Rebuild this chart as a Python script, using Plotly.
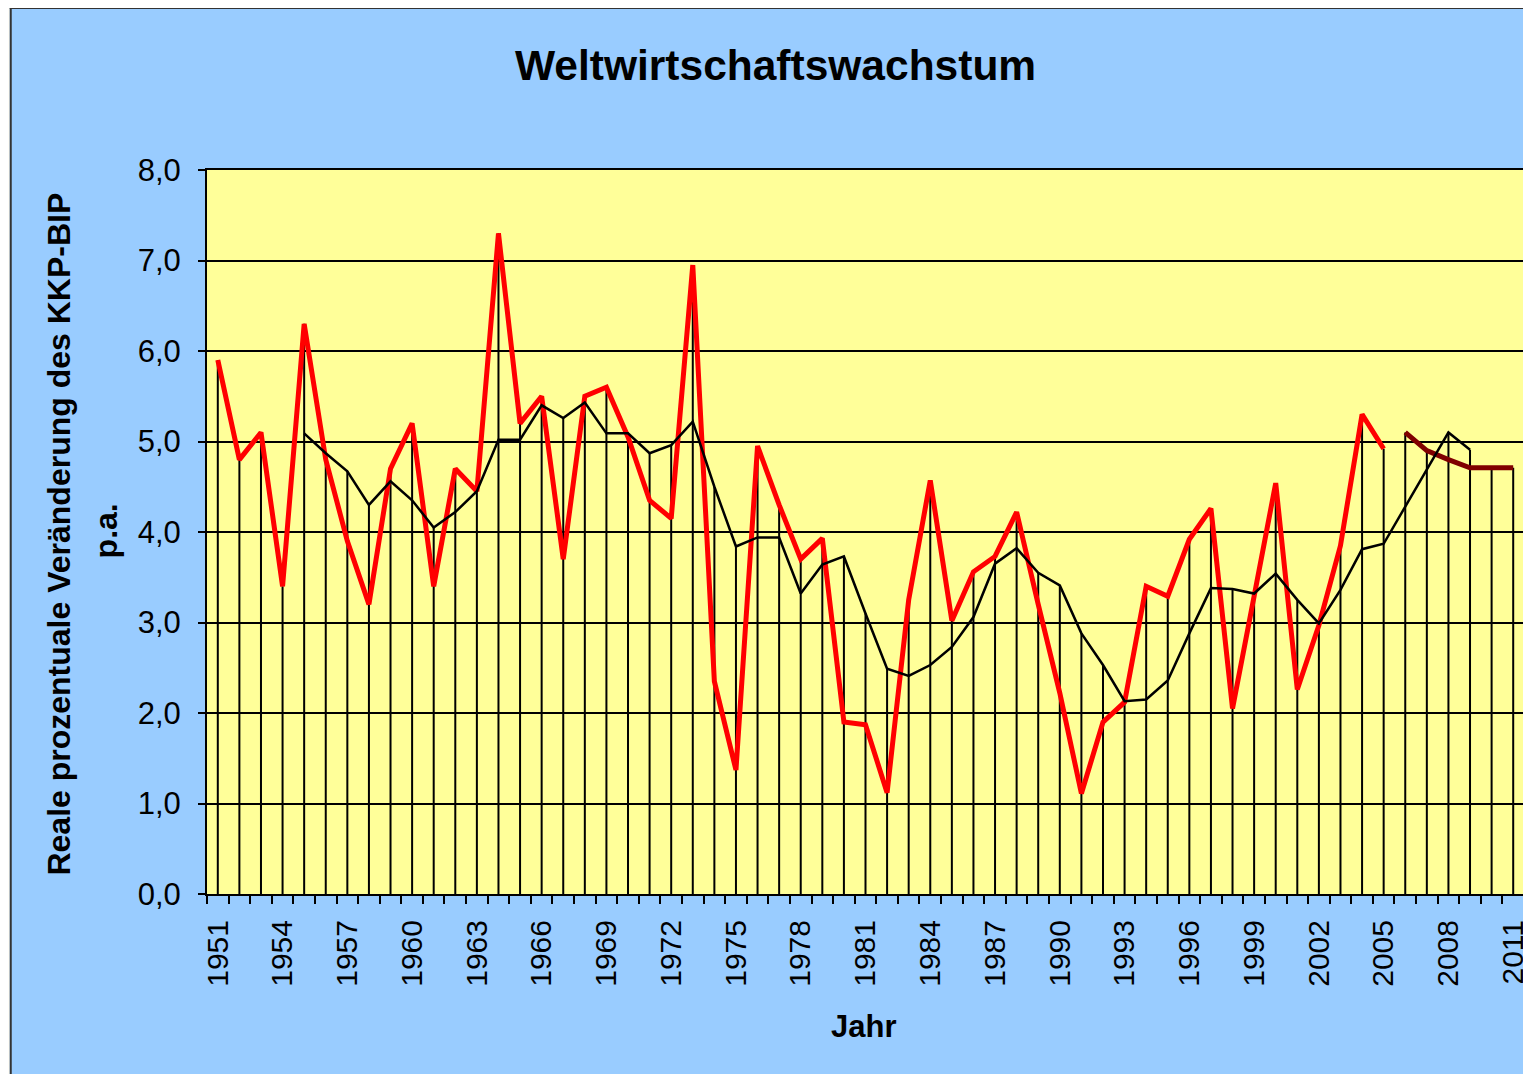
import plotly.graph_objects as go

# ---------------- data ----------------
years = list(range(1951, 2012))

growth_years = list(range(1951, 2006))
growth = [5.9, 4.8, 5.1, 3.4, 6.3, 4.8, 3.9, 3.2, 4.7, 5.2,
          3.4, 4.7, 4.45, 7.3, 5.2, 5.5, 3.7, 5.5, 5.6, 5.05,
          4.35, 4.15, 6.95, 2.35, 1.37, 4.95, 4.3, 3.7, 3.93, 1.9,
          1.87, 1.12, 3.25, 4.57, 3.02, 3.56, 3.73, 4.22, 3.2, 2.22,
          1.11, 1.9, 2.12, 3.4, 3.29, 3.92, 4.26, 2.05, 3.29, 4.54,
          2.26, 2.97, 3.85, 5.3, 4.92]

forecast_years = list(range(2006, 2012))
forecast = [5.1, 4.9, 4.8, 4.71, 4.71, 4.71]

trend_years = list(range(1955, 2010))
trend = [5.09, 4.87, 4.67, 4.30, 4.56, 4.35, 4.05, 4.22, 4.45, 5.02,
         5.02, 5.40, 5.26, 5.43, 5.09, 5.09, 4.87, 4.96, 5.22, 4.50,
         3.84, 3.94, 3.94, 3.32, 3.64, 3.73, 3.10, 2.49, 2.41, 2.53,
         2.73, 3.06, 3.65, 3.82, 3.55, 3.41, 2.88, 2.53, 2.13, 2.15,
         2.36, 2.88, 3.38, 3.37, 3.32, 3.54, 3.25, 2.99, 3.36, 3.81,
         3.87, 4.28, 4.69, 5.10, 4.91]

tick_years = list(range(1951, 2012, 3))
tick_labels = [str(y) for y in tick_years]
y_ticks = list(range(0, 9))

# ---------------- drop lines (from highest series value to axis) ----------------
tops = {}
for ys, vs in ((growth_years, growth), (forecast_years, forecast), (trend_years, trend)):
    for yr, v in zip(ys, vs):
        tops[yr] = max(tops.get(yr, 0), v)
drop_x, drop_y = [], []
for yr in years:
    drop_x += [yr, yr, None]
    drop_y += [0, tops[yr], None]

fig = go.Figure()
fig.add_trace(go.Scatter(x=drop_x, y=drop_y, mode="lines",
                         line=dict(color="black", width=2), hoverinfo="skip"))
fig.add_trace(go.Scatter(x=growth_years, y=growth, mode="lines",
                         line=dict(color="#FF0000", width=5)))
fig.add_trace(go.Scatter(x=forecast_years, y=forecast, mode="lines",
                         line=dict(color="#800000", width=5)))
fig.add_trace(go.Scatter(x=trend_years, y=trend, mode="lines",
                         line=dict(color="black", width=2.5)))

# ---------------- layout ----------------
OFF = 8                      # page body margin offset
W, H = 1531 - OFF, 1074 - OFF
L, R, T, B = 207 - OFF, 2, 170 - OFF, 180
PW, PH = W - L - R, H - T - B


def px(x):
    return (x - OFF - L) / PW


def py(y):
    return (H - B - (y - OFF)) / PH


FONT = "Liberation Sans, Arial, sans-serif"

fig.update_layout(
    width=W, height=H,
    margin=dict(l=L, r=R, t=T, b=B),
    paper_bgcolor="#99CCFF",
    plot_bgcolor="#FFFF99",
    separators=",.",
    showlegend=False,
    font=dict(family=FONT, color="black", size=30),
    xaxis=dict(
        type="linear", range=[1950.5, 2011.5],
        tickmode="array", tickvals=tick_years, ticktext=tick_labels,
        tickangle=-90, ticks="", showgrid=False, zeroline=False,
        showline=True, linecolor="black", linewidth=2, mirror=True,
        tickfont=dict(size=30, family=FONT, color="black"),
        ticklabelstandoff=12, ticklabeloverflow="allow",
        minor=dict(ticks="outside", ticklen=8, tickwidth=1.5, tickcolor="black",
                   tickmode="linear", tick0=1950.5, dtick=1, showgrid=False),
    ),
    yaxis=dict(
        range=[0, 8], tickmode="array", tickvals=y_ticks, tickformat=".1f",
        showgrid=True, gridcolor="black", gridwidth=1.5, zeroline=False,
        ticks="outside", ticklen=7, tickwidth=1.5, tickcolor="black",
        showline=True, linecolor="black", linewidth=2, mirror=True,
        tickfont=dict(size=31, family=FONT, color="black"),
        ticklabelstandoff=11,
    ),
    shapes=[
        dict(type="rect", xref="paper", yref="paper", x0=px(0), x1=px(1560),
             y0=py(7), y1=py(-10), fillcolor="#FFFDF6", line=dict(width=0)),
        dict(type="rect", xref="paper", yref="paper", x0=px(-10), x1=px(9),
             y0=py(1100), y1=py(-10), fillcolor="#FFFDF6", line=dict(width=0)),
        dict(type="line", xref="paper", yref="paper", x0=px(9), x1=px(1560),
             y0=py(8), y1=py(8), line=dict(color="#333333", width=2)),
        dict(type="line", xref="paper", yref="paper", x0=px(10), x1=px(10),
             y0=py(8), y1=py(1100), line=dict(color="#333333", width=2)),
    ],
    annotations=[
        dict(text="<b>Weltwirtschaftswachstum</b>", xref="paper", yref="paper",
             x=px(778), y=py(66), xanchor="center", yanchor="middle",
             showarrow=False, font=dict(size=42.5, family=FONT, color="black")),
        dict(text="<b>Jahr</b>", xref="paper", yref="paper",
             x=px(866), y=py(1026), xanchor="center", yanchor="middle",
             showarrow=False, font=dict(size=31, family=FONT, color="black")),
        dict(text="<b>Reale prozentuale Veränderung des KKP-BIP</b>", xref="paper", yref="paper",
             x=px(58), y=py(534), xanchor="center", yanchor="middle", textangle=-90,
             showarrow=False, font=dict(size=32, family=FONT, color="black")),
        dict(text="<b>p.a.</b>", xref="paper", yref="paper",
             x=px(106), y=py(531), xanchor="center", yanchor="middle", textangle=-90,
             showarrow=False, font=dict(size=32, family=FONT, color="black")),
    ],
)

fig.write_html("out.html")
